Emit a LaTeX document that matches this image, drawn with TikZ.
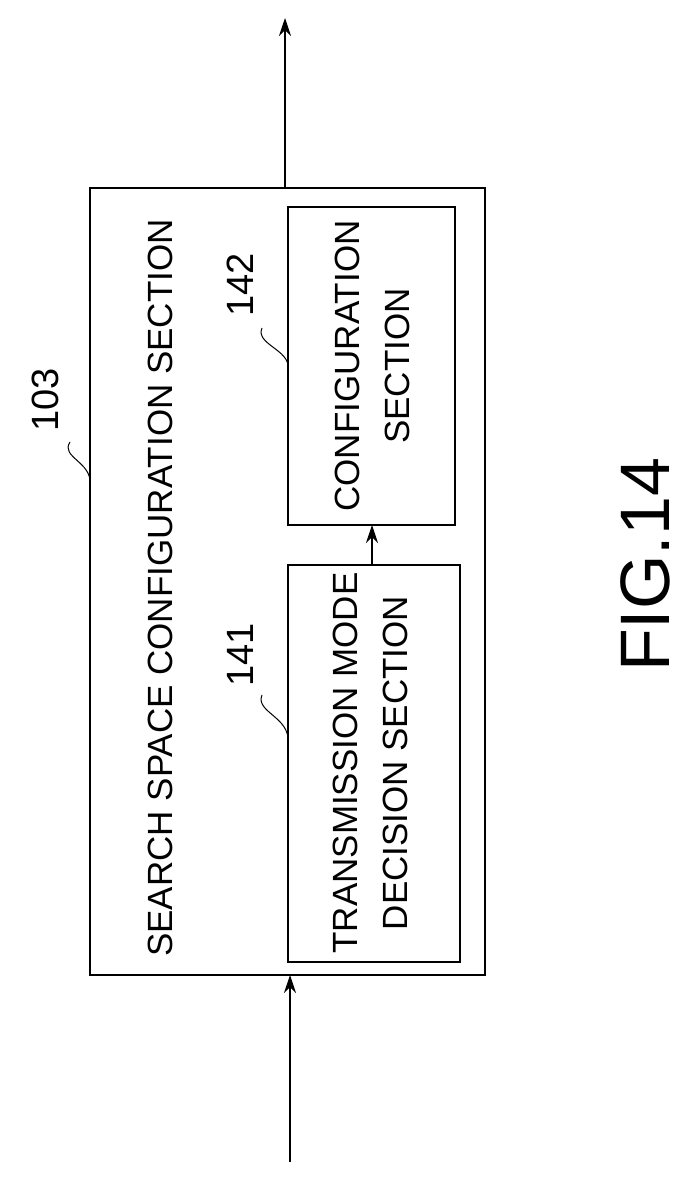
\documentclass[tikz,border=0pt]{standalone}
\usepackage{fontspec}
\setmainfont{Liberation Sans}
\usetikzlibrary{arrows.meta}
\begin{document}
\begin{tikzpicture}[x=1pt,y=-1pt,
                    blk/.style={draw, line width=1.2pt},
                    lbl/.style={rotate=90, font=\fontsize{35}{38}\selectfont, align=center, inner sep=0pt},
                    num/.style={rotate=90, font=\fontsize{38}{40}\selectfont, inner sep=0pt},
                    arr/.style={-{Stealth[length=18pt,width=12pt]}, line width=1.2pt}]
\useasboundingbox (0,0) rectangle (696,1182);
% blocks
\draw[blk] (90,188) rectangle (485,975);
\draw[blk] (288,565) rectangle (460,962);
\draw[blk] (288,207) rectangle (455,525);
\coordinate (outtop) at (285,188);
\coordinate (outend) at (285,18);
\coordinate (inbot) at (290,975);
\coordinate (inend) at (290,1162);
\coordinate (tm) at (372,565);
\coordinate (cf) at (372,525);
\draw[arr] (outtop) -- (outend);
\draw[arr] (inend) -- (inbot);
\draw[arr] (tm) -- (cf);
% texts
\node[lbl] (sscs) at (160,588) {SEARCH SPACE CONFIGURATION SECTION};
\node[lbl] (tmds) at (370,763) {TRANSMISSION MODE\\[12pt]DECISION SECTION};
\node[lbl] (cfs) at (372,366) {CONFIGURATION\\[12pt]SECTION};
% reference numbers
\node[num] (n103) at (45,400) {103};
\node[num] (n141) at (240,655) {141};
\node[num] (n142) at (240,285) {142};
\draw[line width=1pt] (70,442) .. controls (60,457) and (92,462) .. (90,484);
\draw[line width=1pt] (262,695) .. controls (255,712) and (290,717) .. (288,742);
\draw[line width=1pt] (262,328) .. controls (255,344) and (290,350) .. (288,368);
\node[rotate=90, font=\fontsize{70}{72}\selectfont, inner sep=0pt] (fig) at (645,565) {FIG.14};
\end{tikzpicture}
\end{document}
